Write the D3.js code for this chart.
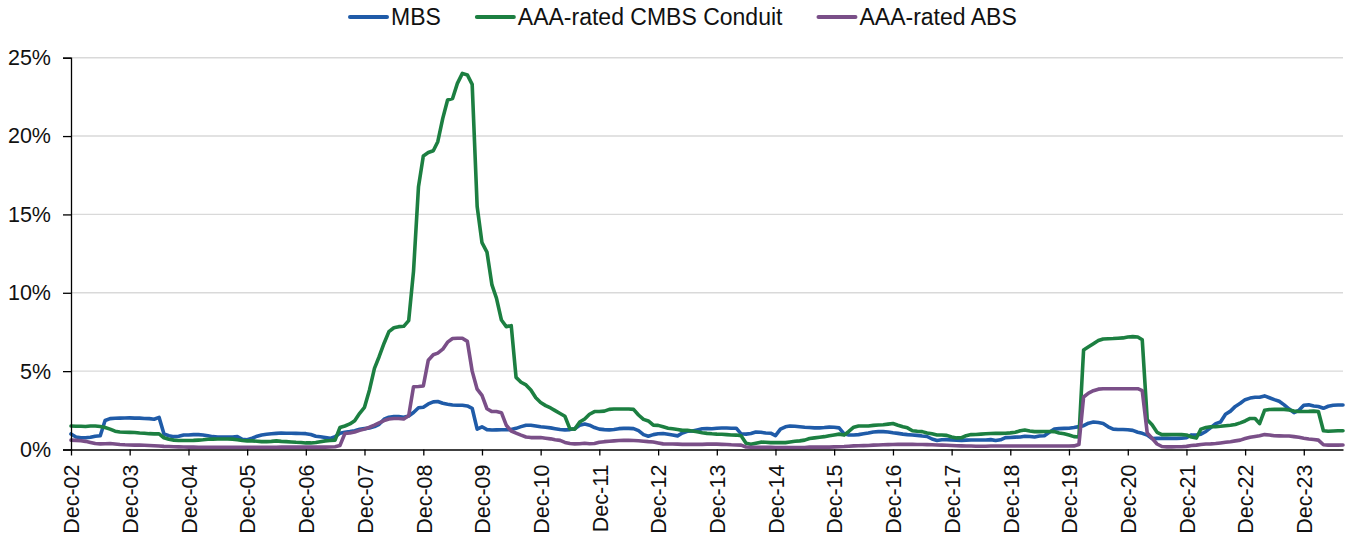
<!DOCTYPE html>
<html>
<head>
<meta charset="utf-8">
<script src="https://cdn.jsdelivr.net/npm/d3@7"></script>
<style>
  html, body { margin: 0; padding: 0; background: #fff; }
  svg { display: block; font-family: "Liberation Sans", Arial, Helvetica, sans-serif; }
</style>
</head>
<body>
<svg id="chart" width="1349" height="533"></svg>
<script>
// ---------- DATA (monthly, Dec-02 .. Aug-24, % ) ----------
const firstMonth = "2002-12";
const seriesNames = ["MBS", "AAA-rated CMBS Conduit", "AAA-rated ABS"];
const xTickLabels = ["Dec-02","Dec-03","Dec-04","Dec-05","Dec-06","Dec-07","Dec-08","Dec-09","Dec-10","Dec-11","Dec-12","Dec-13","Dec-14","Dec-15","Dec-16","Dec-17","Dec-18","Dec-19","Dec-20","Dec-21","Dec-22","Dec-23"];
const yTicks = [0, 5, 10, 15, 20, 25];

const mbs = [
  0.99,0.80,0.75,0.75,0.78,0.85,0.88,1.85,1.97,1.99,2.00,2.01,
  2.02,2.00,2.00,1.98,1.97,1.93,2.05,1.00,0.88,0.82,0.85,0.93,
  0.93,0.95,0.95,0.93,0.88,0.82,0.80,0.80,0.80,0.80,0.82,0.65,
  0.62,0.72,0.85,0.93,0.97,1.00,1.03,1.05,1.04,1.04,1.03,1.02,
  1.01,0.96,0.85,0.81,0.77,0.71,0.81,1.03,1.10,1.14,1.20,1.29,
  1.33,1.37,1.46,1.61,1.93,2.06,2.10,2.10,2.06,2.14,2.36,2.66,
  2.70,2.91,3.04,3.06,2.95,2.89,2.84,2.82,2.82,2.78,2.63,1.30,
  1.45,1.27,1.24,1.25,1.26,1.26,1.27,1.35,1.46,1.55,1.55,1.50,
  1.45,1.42,1.38,1.33,1.28,1.25,1.27,1.33,1.55,1.62,1.55,1.40,
  1.30,1.27,1.25,1.28,1.33,1.35,1.35,1.33,1.20,0.95,0.85,0.95,
  1.00,1.02,0.97,0.92,0.87,1.05,1.16,1.18,1.25,1.32,1.33,1.32,
  1.36,1.37,1.37,1.36,1.36,1.00,0.98,1.02,1.12,1.10,1.05,1.04,
  0.88,1.30,1.45,1.50,1.48,1.45,1.42,1.40,1.38,1.38,1.40,1.43,
  1.42,1.38,1.00,0.93,0.93,0.95,1.00,1.05,1.12,1.14,1.14,1.12,
  1.07,1.03,0.98,0.95,0.93,0.90,0.86,0.83,0.67,0.58,0.62,0.63,
  0.61,0.60,0.58,0.60,0.61,0.61,0.61,0.61,0.63,0.57,0.62,0.76,
  0.77,0.79,0.80,0.84,0.83,0.80,0.86,0.88,1.10,1.30,1.33,1.35,
  1.36,1.40,1.46,1.52,1.68,1.75,1.72,1.66,1.45,1.30,1.28,1.28,
  1.26,1.22,1.10,1.03,0.92,0.70,0.71,0.71,0.71,0.71,0.71,0.72,
  0.75,0.93,0.92,0.98,1.15,1.40,1.65,1.75,2.25,2.45,2.75,2.95,
  3.18,3.28,3.33,3.33,3.42,3.30,3.18,3.08,2.85,2.58,2.35,2.50,
  2.82,2.85,2.78,2.74,2.63,2.76,2.82,2.84,2.84
];

const cmbs = [
  1.50,1.48,1.48,1.47,1.50,1.50,1.47,1.40,1.30,1.17,1.12,1.10,
  1.09,1.08,1.05,1.04,1.01,1.00,1.00,0.75,0.65,0.60,0.57,0.57,
  0.57,0.58,0.60,0.62,0.65,0.66,0.67,0.67,0.67,0.66,0.62,0.57,
  0.55,0.55,0.53,0.50,0.50,0.52,0.55,0.52,0.50,0.48,0.46,0.45,
  0.42,0.42,0.45,0.50,0.55,0.57,0.60,1.40,1.50,1.63,1.84,2.31,
  2.69,3.80,5.18,5.92,6.78,7.52,7.77,7.84,7.86,8.22,11.37,16.77,
  18.73,18.95,19.06,19.64,21.13,22.30,22.40,23.36,24.00,23.90,23.30,15.50,
  13.20,12.60,10.50,9.66,8.26,7.84,7.90,4.60,4.29,4.12,3.80,3.30,
  3.00,2.80,2.65,2.48,2.30,2.12,1.32,1.30,1.75,1.95,2.25,2.42,
  2.42,2.45,2.56,2.58,2.58,2.58,2.58,2.56,2.20,1.92,1.82,1.55,
  1.54,1.45,1.36,1.32,1.28,1.22,1.22,1.18,1.13,1.07,1.03,1.00,
  0.98,0.97,0.95,0.93,0.92,0.88,0.40,0.33,0.40,0.47,0.46,0.44,
  0.44,0.44,0.44,0.48,0.53,0.55,0.60,0.70,0.74,0.78,0.82,0.88,
  0.93,0.98,0.92,1.15,1.42,1.50,1.50,1.50,1.54,1.56,1.58,1.62,
  1.66,1.55,1.45,1.38,1.20,1.16,1.14,1.05,1.00,0.93,0.93,0.90,
  0.80,0.74,0.75,0.88,0.95,0.96,0.98,1.00,1.02,1.03,1.03,1.04,
  1.06,1.10,1.20,1.24,1.18,1.14,1.14,1.15,1.15,1.14,1.05,1.00,
  0.92,0.82,0.80,6.35,6.55,6.75,6.95,7.05,7.07,7.08,7.10,7.12,
  7.18,7.20,7.18,7.00,1.90,1.58,1.10,0.95,0.95,0.96,0.96,0.95,
  0.93,0.80,0.73,1.30,1.40,1.45,1.46,1.48,1.52,1.55,1.60,1.70,
  1.82,1.98,1.98,1.65,2.50,2.55,2.56,2.56,2.56,2.52,2.45,2.42,
  2.42,2.43,2.45,2.42,1.20,1.16,1.18,1.20,1.20
];

const abs = [
  0.60,0.58,0.56,0.52,0.45,0.38,0.36,0.37,0.38,0.35,0.32,0.30,
  0.29,0.28,0.28,0.27,0.26,0.24,0.22,0.20,0.19,0.18,0.17,0.16,
  0.15,0.15,0.14,0.14,0.14,0.14,0.14,0.14,0.14,0.14,0.14,0.14,
  0.14,0.14,0.14,0.14,0.14,0.14,0.14,0.15,0.15,0.15,0.15,0.15,
  0.15,0.15,0.15,0.15,0.15,0.16,0.18,0.25,1.02,1.05,1.12,1.22,
  1.30,1.42,1.55,1.70,1.85,1.95,1.98,1.98,1.95,2.15,4.00,4.02,
  4.05,5.70,6.05,6.15,6.40,6.85,7.08,7.10,7.10,6.90,5.00,3.85,
  3.45,2.60,2.42,2.42,2.35,1.55,1.18,1.05,0.92,0.80,0.76,0.76,
  0.76,0.72,0.68,0.62,0.58,0.45,0.38,0.36,0.37,0.40,0.37,0.38,
  0.46,0.50,0.53,0.55,0.57,0.58,0.58,0.57,0.56,0.53,0.50,0.48,
  0.42,0.36,0.35,0.35,0.34,0.33,0.33,0.33,0.33,0.33,0.34,0.34,
  0.34,0.33,0.32,0.30,0.29,0.28,0.16,0.14,0.14,0.14,0.14,0.14,
  0.13,0.13,0.13,0.13,0.13,0.13,0.13,0.15,0.15,0.15,0.15,0.15,
  0.17,0.18,0.19,0.21,0.23,0.24,0.25,0.26,0.28,0.29,0.30,0.31,
  0.32,0.33,0.33,0.33,0.33,0.32,0.32,0.31,0.30,0.29,0.28,0.27,
  0.26,0.24,0.23,0.22,0.22,0.21,0.21,0.21,0.22,0.22,0.22,0.22,
  0.22,0.22,0.22,0.22,0.22,0.22,0.22,0.22,0.22,0.22,0.22,0.22,
  0.22,0.23,0.32,3.35,3.60,3.75,3.85,3.88,3.88,3.88,3.88,3.88,
  3.88,3.88,3.88,3.75,1.05,0.72,0.35,0.19,0.17,0.17,0.18,0.18,
  0.20,0.25,0.28,0.32,0.35,0.36,0.38,0.42,0.46,0.50,0.55,0.60,
  0.70,0.78,0.83,0.88,0.95,0.92,0.88,0.87,0.86,0.86,0.82,0.78,
  0.72,0.67,0.64,0.60,0.30,0.28,0.28,0.28,0.29
];

const colors = ["#1f5ba8", "#1c7f41", "#7a4f88"];

// ---------- BUILD ----------
const svg = d3.select("#chart");
svg.append("rect").attr("width", 1349).attr("height", 533).attr("fill", "#fff");

const start = d3.timeParse("%Y-%m")(firstMonth);
const months = mbs.map((_, i) => d3.timeMonth.offset(start, i));
const seriesValues = [mbs, cmbs, abs];

const x = d3.scaleTime()
  .domain([months[0], months[months.length - 1]])
  .range([71, 1343]);
const y = d3.scaleLinear().domain([0, 25]).range([449.5, 57.7]);

// gridlines
svg.append("g")
  .selectAll("line")
  .data(yTicks.filter(d => d > 0))
  .join("line")
  .attr("x1", x.range()[0]).attr("x2", x.range()[1])
  .attr("y1", d => y(d)).attr("y2", d => y(d))
  .attr("stroke", "#d9d9d9").attr("stroke-width", 1.4);

// lines
const line = d3.line()
  .x((d, i) => x(months[i]))
  .y(d => y(d));

svg.append("g")
  .selectAll("path")
  .data(seriesValues)
  .join("path")
  .attr("d", d => line(d))
  .attr("fill", "none")
  .attr("stroke", (d, i) => colors[i])
  .attr("stroke-width", 3.6)
  .attr("stroke-linejoin", "round")
  .attr("stroke-linecap", "round");

// y axis
const yAxis = d3.axisLeft(y)
  .tickValues(yTicks)
  .tickSize(8)
  .tickPadding(12)
  .tickFormat(d => d + "%");
const gy = svg.append("g").attr("transform", `translate(${x.range()[0]},0)`).call(yAxis);
gy.select(".domain").attr("stroke", "#000").attr("stroke-width", 1.3);
gy.selectAll(".tick line").attr("stroke", "#000").attr("stroke-width", 1.3);
gy.selectAll(".tick text")
  .attr("font-size", "21.5px")
  .attr("fill", "#111")
  .attr("font-family", "Liberation Sans, Arial, sans-serif");

// x axis
const parseTick = d3.timeParse("%b-%y");
const xTickDates = xTickLabels.map(parseTick);
const xAxis = d3.axisBottom(x)
  .tickValues(xTickDates)
  .tickSize(6)
  .tickSizeOuter(0)
  .tickFormat((d, i) => xTickLabels[i]);
const gx = svg.append("g").attr("transform", `translate(0,${y(0)})`).call(xAxis);
gx.select(".domain").attr("stroke", "#000").attr("stroke-width", 1.3);
gx.selectAll(".tick line").attr("stroke", "#000").attr("stroke-width", 1.3);
gx.selectAll(".tick text")
  .attr("font-size", "21.5px")
  .attr("fill", "#111")
  .attr("font-family", "Liberation Sans, Arial, sans-serif")
  .attr("text-anchor", "end")
  .attr("transform", "rotate(-90)")
  .attr("x", -15)
  .attr("y", 0)
  .attr("dy", "0.36em");

// legend
const legend = svg.append("g").attr("font-size", "23px").attr("fill", "#111");
let lx = 349;
const ly = 17;
seriesNames.forEach((name, i) => {
  legend.append("line")
    .attr("x1", lx + 1).attr("x2", lx + 38)
    .attr("y1", ly).attr("y2", ly)
    .attr("stroke", colors[i]).attr("stroke-width", 4)
    .attr("stroke-linecap", "round");
  const t = legend.append("text")
    .attr("x", lx + 42).attr("y", ly)
    .attr("dy", "0.36em")
    .text(name);
  const w = t.node().getComputedTextLength();
  lx = lx + 42 + w + 35;
});
</script>
</body>
</html>
